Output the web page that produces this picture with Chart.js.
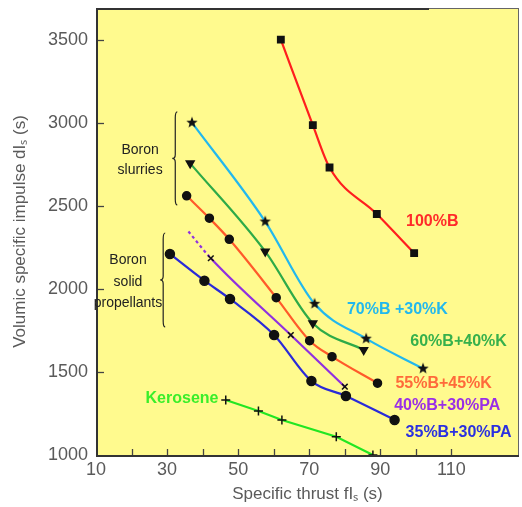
<!DOCTYPE html>
<html>
<head>
<meta charset="utf-8">
<script src="https://cdn.jsdelivr.net/npm/chart.js@4"></script>
<style>
  html, body { margin: 0; padding: 0; background: #fff; }
  #wrap { width: 522px; height: 507px; }
</style>
</head>
<body>
<div id="wrap"><canvas id="c"></canvas></div>
<script>
// axis ticks
const xTicks = [10, 30, 50, 70, 90, 110];
const yTicks = [1000, 1500, 2000, 2500, 3000, 3500];
const xMarks = [20, 30, 40, 50, 60, 70, 80, 90, 100, 110];
const yMarks = [1500, 2000, 2500, 3000, 3500];

// series (specific thrust, volumic specific impulse)
const b100X = [62, 71, 75.7, 89, 99.5];
const b100Y = [3500, 2985, 2730, 2450, 2215];
const b70X = [37, 57.6, 71.5, 86, 102];
const b70Y = [3000, 2405, 1910, 1700, 1520];
const b60X = [36.5, 57.6, 71, 85.3];
const b60Y = [2755, 2225, 1793, 1632];
const b55X = [35.5, 41.9, 47.5, 60.7, 70.1, 76.4, 89.2];
const b55Y = [2560, 2425, 2298, 1947, 1688, 1592, 1432];
const b40X = [36, 42.3, 64.8, 80];
const b40Y = [2345, 2184, 1722, 1411];
const b35X = [30.8, 40.5, 47.7, 60.1, 70.6, 80.3, 94];
const b35Y = [2210, 2049, 1939, 1722, 1445, 1355, 1211];
const keroX = [46.5, 55.7, 62.3, 77.6, 87.9];
const keroY = [1331, 1265, 1211, 1110, 1000];

// in-plot labels
const labelText = ["100%B", "70%B +30%K", "60%B+40%K", "55%B+45%K", "40%B+30%PA", "35%B+30%PA", "Kerosene"];
const labelX = [104.6, 94.8, 112, 107.8, 108.8, 112, 34.2];
const labelY = [2403, 1873, 1680, 1427, 1295, 1132, 1337];
const labelColor = ["#ff2a2a", "#22b8ee", "#36b04c", "#ff6a3a", "#9a2fe6", "#2a30e0", "#3aee2a"];

const groupText = [["Boron", "slurries"], ["Boron", "solid", "propellants"]];
const groupX = [22.4, 19.0];
const groupY = [2776, 2041];
const braceX = [32.3, 28.9];
const braceTop = [3065, 2336];
const braceBottom = [2505, 1771];

function xy(xs, ys) {
  return xs.map((x, i) => ({x: x, y: ys[i]}));
}

function starImage(r) {
  const cv = document.createElement("canvas");
  cv.width = cv.height = r * 2 + 2;
  const g = cv.getContext("2d");
  g.fillStyle = "#111";
  g.beginPath();
  for (let i = 0; i < 10; i++) {
    const rad = i % 2 ? r * 0.42 : r;
    const a = -Math.PI / 2 + i * Math.PI / 5;
    const px = r + 1 + rad * Math.cos(a), py = r + 1 + rad * Math.sin(a);
    if (i) g.lineTo(px, py); else g.moveTo(px, py);
  }
  g.closePath();
  g.fill();
  return cv;
}
const star = starImage(6);

function line(data, color, style, radius, extra) {
  return Object.assign({
    data: data,
    showLine: true,
    borderColor: color,
    borderWidth: 2.2,
    cubicInterpolationMode: "monotone",
    pointStyle: style,
    pointRadius: radius,
    pointBackgroundColor: "#111",
    pointBorderColor: "#111",
    pointBorderWidth: 1.5
  }, extra || {});
}

const plotDecor = {
  id: "plotDecor",
  beforeDraw(chart) {
    const a = chart.chartArea, g = chart.ctx;
    g.save();
    g.fillStyle = "#fffa8e";
    g.fillRect(a.left, a.top, a.right - a.left, a.bottom - a.top);
    g.restore();
  },
  beforeDatasetsDraw(chart) {
    const a = chart.chartArea, g = chart.ctx;
    const xs = chart.scales.x, ys = chart.scales.y;
    g.save();
    g.strokeStyle = "#444";
    g.lineWidth = 1.3;
    xMarks.forEach(v => {
      const px = Math.round(xs.getPixelForValue(v)) + 0.5;
      g.beginPath(); g.moveTo(px, a.bottom); g.lineTo(px, a.bottom - 6); g.stroke();
    });
    yMarks.forEach(v => {
      const py = Math.round(ys.getPixelForValue(v)) + 0.5;
      g.beginPath(); g.moveTo(a.left, py); g.lineTo(a.left + 8, py); g.stroke();
    });
    g.strokeStyle = "#666";
    g.lineWidth = 1;
    g.strokeRect(a.left + 0.5, a.top + 0.5, a.right - a.left - 1, a.bottom - a.top);
    g.strokeStyle = "#333";
    g.lineWidth = 2;
    g.beginPath();
    g.moveTo(a.left + 1, a.top); g.lineTo(a.left + 1, a.bottom + 1); g.lineTo(a.right, a.bottom + 1);
    g.moveTo(a.left, a.top + 1); g.lineTo(a.right - 90, a.top + 1);
    g.stroke();

    // braces
    g.strokeStyle = "#222";
    g.lineWidth = 1.2;
    braceX.forEach((bx, i) => {
      const px = xs.getPixelForValue(bx);
      const t = ys.getPixelForValue(braceTop[i]), b = ys.getPixelForValue(braceBottom[i]);
      const m = (t + b) / 2;
      g.beginPath();
      g.moveTo(px + 2, t);
      g.quadraticCurveTo(px, t, px, t + 6);
      g.lineTo(px, m - 4);
      g.quadraticCurveTo(px, m, px - 3, m);
      g.quadraticCurveTo(px, m, px, m + 4);
      g.lineTo(px, b - 6);
      g.quadraticCurveTo(px, b, px + 2, b);
      g.stroke();
    });
    g.restore();
  },
  afterDatasetsDraw(chart) {
    const g = chart.ctx;
    const xs = chart.scales.x, ys = chart.scales.y;
    g.save();
    g.textAlign = "center";
    g.textBaseline = "middle";
    g.font = "bold 16px 'Liberation Sans', Arial, sans-serif";
    labelText.forEach((t, i) => {
      g.fillStyle = labelColor[i];
      g.fillText(t, xs.getPixelForValue(labelX[i]), ys.getPixelForValue(labelY[i]));
    });
    g.fillStyle = "#222";
    g.font = "14px 'Liberation Sans Narrow', 'Liberation Sans', Arial, sans-serif";
    groupText.forEach((lines, i) => {
      const cx = xs.getPixelForValue(groupX[i]), cy = ys.getPixelForValue(groupY[i]);
      const step = lines.length > 2 ? 21.5 : 20;
      lines.forEach((t, k) => {
        g.fillText(t, cx, cy + (k - (lines.length - 1) / 2) * step);
      });
    });
    g.restore();
  }
};

const tickFont = {family: "'Liberation Sans', Arial, sans-serif", size: 18};

new Chart(document.getElementById("c"), {
  type: "scatter",
  data: {
    datasets: [
      line(xy(b100X, b100Y), "#ff1e1e", "rect", 4.5),
      line(xy(b70X, b70Y), "#22b8ee", star, 6),
      line(xy(b60X, b60Y), "#2eaa48", "triangle", 4.5, {pointRotation: 180}),
      line(xy(b55X, b55Y), "#ff5a2a", "circle", 4),
      line(xy(b40X, b40Y), "#9030e0", "crossRot", [0, 4, 4, 4], {
        segment: {borderDash: ctx => ctx.p0DataIndex === 0 ? [3, 3] : undefined}
      }),
      line(xy(b35X, b35Y), "#2a2ad8", "circle", 4.5),
      line(xy(keroX, keroY), "#22e622", "cross", 4.5, {cubicInterpolationMode: "default", tension: 0})
    ]
  },
  options: {
    responsive: true,
    maintainAspectRatio: false,
    animation: false,
    layout: {autoPadding: false, padding: {top: 8, right: 3, left: 0, bottom: 0}},
    plugins: {legend: {display: false}, tooltip: {enabled: false}},
    scales: {
      x: {
        type: "linear",
        min: 10,
        max: 129,
        afterBuildTicks: s => { s.ticks = xTicks.map(v => ({value: v})); },
        afterFit: s => { s.height = 52; s.paddingLeft = 0; s.paddingRight = 0; },
        grid: {display: false, drawTicks: false},
        border: {display: false},
        ticks: {color: "#5a5a5a", font: tickFont, padding: 4, maxRotation: 0, callback: v => String(v)},
        title: {
          display: true,
          text: "Specific thrust fIₛ (s)",
          color: "#5a5a5a",
          font: {family: "'Liberation Sans', Arial, sans-serif", size: 17},
          padding: {top: 0, bottom: 2}
        }
      },
      y: {
        type: "linear",
        min: 1000,
        max: 3690,
        afterBuildTicks: s => { s.ticks = yTicks.map(v => ({value: v})); },
        afterFit: s => { s.width = 96; s.paddingTop = 0; s.paddingBottom = 0; },
        grid: {display: false, drawTicks: false},
        border: {display: false},
        ticks: {color: "#5a5a5a", font: tickFont, padding: 8, callback: v => String(v)},
        title: {
          display: true,
          text: "Volumic specific impulse dIₛ (s)",
          color: "#5a5a5a",
          font: {family: "'Liberation Sans', Arial, sans-serif", size: 17},
          padding: {top: 10, bottom: 0}
        }
      }
    }
  },
  plugins: [plotDecor]
});
</script>
</body>
</html>
